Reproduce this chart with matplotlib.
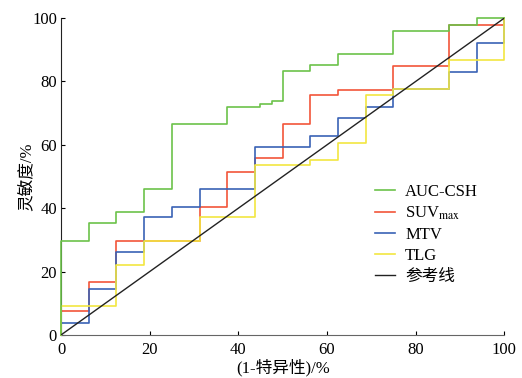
import numpy as np
import matplotlib
matplotlib.use('Agg')
import matplotlib.pyplot as plt

plt.rcParams['font.family'] = ['Liberation Serif', 'Noto Sans CJK SC']
plt.rcParams['mathtext.fontset'] = 'stix'

# ROC 曲线数据 (1-特异性, 灵敏度), 单位 %
auc_x = [0, 0, 6.25, 12.5, 18.75, 25, 37.5, 44.9, 47.5, 50, 56.25, 62.5, 75, 87.5, 93.75, 100]
auc_y = [0, 29.6, 35.4, 38.7, 46.1, 66.5, 72.0, 72.8, 73.8, 83.3, 85.2, 88.7, 96.0, 97.8, 100, 100]

suv_x = [0, 0, 6.25, 12.5, 31.25, 37.5, 43.75, 50, 56.25, 62.5, 75, 87.5, 100, 100]
suv_y = [0, 7.4, 16.7, 29.6, 40.5, 51.5, 55.7, 66.5, 75.7, 77.3, 84.9, 97.8, 97.8, 100]

mtv_x = [0, 0, 6.25, 12.5, 18.75, 25, 31.25, 43.75, 56.25, 62.5, 68.75, 75, 87.5, 93.75, 100, 100]
mtv_y = [0, 3.7, 14.6, 26.1, 37.1, 40.5, 46.1, 59.2, 62.8, 68.4, 72.0, 77.5, 83.1, 92.3, 92.3, 100]

tlg_x = [0, 0, 12.5, 18.75, 31.25, 43.75, 56.25, 62.5, 68.75, 75, 87.5, 100, 100]
tlg_y = [0, 9.1, 22.1, 29.6, 37.1, 53.6, 55.2, 60.7, 75.7, 77.5, 86.8, 86.8, 100]

ref = [0, 100]
ticks = [0, 20, 40, 60, 80, 100]

fig = plt.figure(figsize=(5.22, 3.78), dpi=100)
ax = fig.add_axes([0.117, 0.114, 0.849, 0.838])

lw = 1.2
ax.step(auc_x, auc_y, where='post', color='#6cc24a', lw=lw, label='AUC-CSH', zorder=4, clip_on=False)
ax.step(suv_x, suv_y, where='post', color='#f2553a', lw=lw, label=r'SUV$_{\mathrm{max}}$', zorder=1, clip_on=False)
ax.step(mtv_x, mtv_y, where='post', color='#3a62b5', lw=lw, label='MTV', zorder=2, clip_on=False)
ax.step(tlg_x, tlg_y, where='post', color='#f2e641', lw=lw, label='TLG', zorder=3, clip_on=False)
ax.plot(ref, ref, color='#222222', lw=1.0, label='参考线', zorder=5)

ax.set_xlim(0, 100)
ax.set_ylim(0, 100)
ax.set_xticks(ticks)
ax.set_yticks(ticks)
ax.tick_params(direction='in', length=3, labelsize=12)
ax.tick_params(axis='x', pad=5)
ax.tick_params(axis='y', pad=3)

ax.spines['top'].set_visible(False)
ax.spines['right'].set_visible(False)
ax.spines['bottom'].set_color('#666666')
ax.spines['left'].set_color('#222222')

ax.set_xlabel('(1-特异性)/%', fontsize=12, labelpad=1)
ax.set_ylabel('灵敏度/%', fontsize=12, labelpad=-2)

ax.legend(loc='center left', bbox_to_anchor=(0.69, 0.317), frameon=False,
          fontsize=12, handlelength=1.2, handletextpad=0.6, labelspacing=0.3,
          borderpad=0)

plt.savefig('out.png', dpi=100)
plt.close()
